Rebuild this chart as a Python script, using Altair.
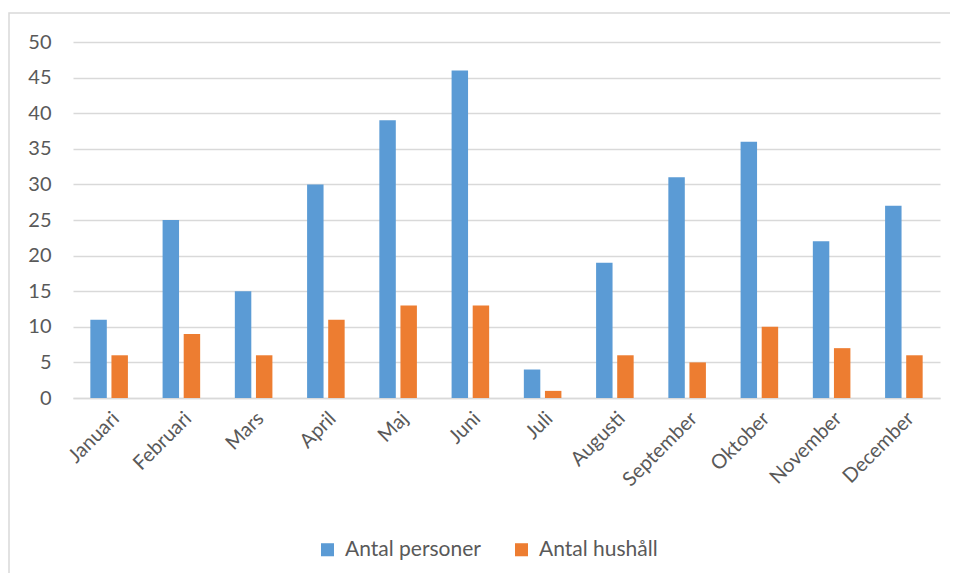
import altair as alt
import pandas as pd

months = ["Januari", "Februari", "Mars", "April", "Maj", "Juni", "Juli",
          "Augusti", "September", "Oktober", "November", "December"]
personer = [11, 25, 15, 30, 39, 46, 4, 19, 31, 36, 22, 27]
hushall = [6, 9, 6, 11, 13, 13, 1, 6, 5, 10, 7, 6]
series = ["Antal personer", "Antal hushåll"]
colors = ["#5B9BD5", "#ED7D31"]

rows = []
for m, p, h in zip(months, personer, hushall):
    rows.append({"Månad": m, "Serie": series[0], "Värde": p})
    rows.append({"Månad": m, "Serie": series[1], "Värde": h})
df = pd.DataFrame(rows)

FONT = "Lato"

bars = alt.Chart(df).mark_bar().encode(
    x=alt.X("Månad:N", sort=months, title=None,
            scale=alt.Scale(paddingInner=0.48, paddingOuter=0.24),
            axis=alt.Axis(labelAngle=-45, labelAlign="right", labelBaseline="top",
                          ticks=False, domainColor="#d9d9d9", domainWidth=1.5,
                          labelPadding=10, labelFontSize=20, labelColor="#595959",
                          labelFont=FONT, grid=False, labelOverlap=False)),
    xOffset=alt.XOffset("Serie:N", sort=series, scale=alt.Scale(paddingInner=0.22)),
    y=alt.Y("Värde:Q", title=None,
            scale=alt.Scale(domain=[0, 50]),
            axis=alt.Axis(values=list(range(0, 51, 5)), ticks=False, domain=False,
                          gridColor="#d9d9d9", gridWidth=1.5, labelPadding=22,
                          labelFontSize=20, labelColor="#595959", labelFont=FONT)),
    color=alt.Color("Serie:N", sort=series,
                    scale=alt.Scale(domain=series, range=colors),
                    legend=alt.Legend(title=None, orient="none", direction="horizontal",
                                      legendX=244, legendY=497, symbolType="square",
                                      symbolSize=170, symbolStrokeWidth=0,
                                      labelFontSize=21, labelColor="#595959",
                                      labelFont=FONT, columnPadding=30, labelOffset=7)),
)

frame = alt.Chart(pd.DataFrame({"a": [0]})).mark_rect(
    fill=None, stroke="#d9d9d9", strokeWidth=1.5
).encode(x=alt.value(-64), x2=alt.value(884), y=alt.value(-29), y2=alt.value(560))

chart = alt.layer(frame, bars).properties(
    width=867, height=356,
    autosize=alt.AutoSizeParams(type="none"),
    padding={"left": 65, "top": 34, "right": 10, "bottom": 175},
).configure_view(stroke=None)

chart.save("out.html", embed_options={"renderer": "svg", "actions": False})
